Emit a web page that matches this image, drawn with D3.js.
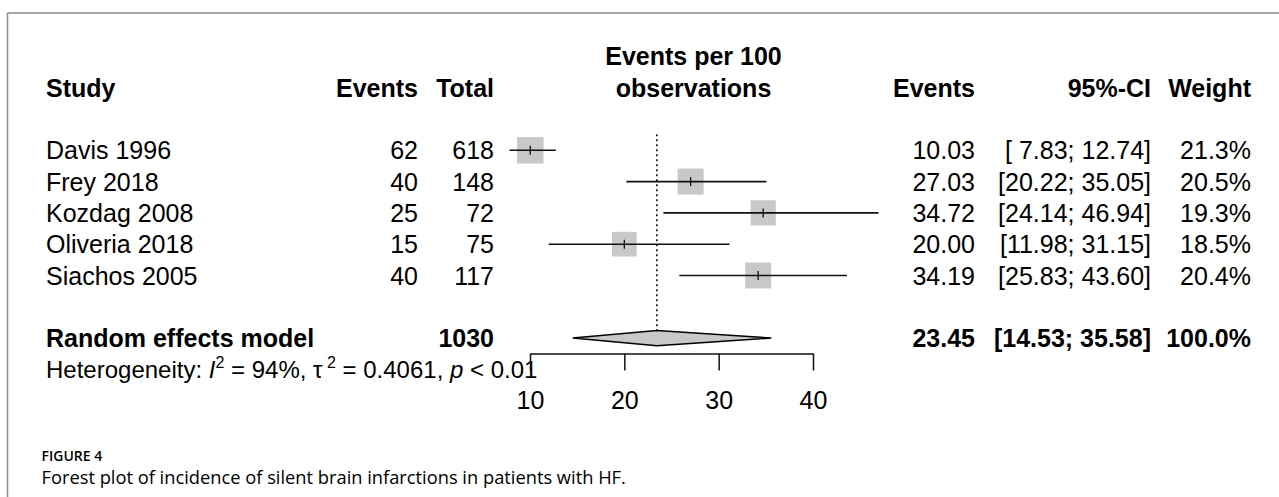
<!DOCTYPE html>
<html>
<head>
<meta charset="utf-8">
<script src="https://cdn.jsdelivr.net/npm/d3@7"></script>
<style>
  html, body { margin: 0; padding: 0; background: #fff; }
  svg { display: block; }
  text { font-family: "Liberation Sans", Arial, Helvetica, sans-serif; fill: #000; }
</style>
</head>
<body>
<svg id="chart" width="1279" height="497"></svg>
<script>
// Study-level data
const studies = ["Davis 1996", "Frey 2018", "Kozdag 2008", "Oliveria 2018", "Siachos 2005"];
const events  = [62, 40, 25, 15, 40];
const totals  = [618, 148, 72, 75, 117];
const rates   = [10.03, 27.03, 34.72, 20.00, 34.19];
const lower   = [7.83, 20.22, 24.14, 11.98, 25.83];
const upper   = [12.74, 35.05, 46.94, 31.15, 43.60];
const weights = [21.3, 20.5, 19.3, 18.5, 20.4];

// Pooled random effects estimate
const pooledLabel = "Random effects model";
const pooledTotal = 1030;
const pooledRate  = 23.45;
const pooledLower = 14.53;
const pooledUpper = 35.58;
const pooledWeight = 100.0;

// Heterogeneity statistics
const hetI2 = "94%";
const hetTau2 = "0.4061";
const hetP = "0.01";

// Axis ticks
const tickValues = [10, 20, 30, 40];

const headerCols = ["Study", "Events", "Total", "Events", "95%-CI", "Weight"];
const axisTitle = ["Events per 100", "observations"];
const figLabel = "FIGURE 4";
const figCaption = "Forest plot of incidence of silent brain infarctions in patients with HF.";

const svg = d3.select("#chart");
const FS = 25;

// Frame (top and left rules)
svg.append("line").attr("x1", 7.5).attr("x2", 1279).attr("y1", 13).attr("y2", 13)
  .attr("stroke", "#8a8a8a").attr("stroke-width", 1.5);
svg.append("line").attr("x1", 7.5).attr("x2", 7.5).attr("y1", 13).attr("y2", 497)
  .attr("stroke", "#8a8a8a").attr("stroke-width", 1.5);

// Row positions
const rowStep = 31.3;
const row0 = 150.3;
const rowY = i => row0 + i * rowStep;
const base = i => rowY(i) + 9;

const x = d3.scaleLinear().domain([10, 40]).range([530, 813]);

const colX = { study: 46, events: 418, total: 494, rate: 975, ci: 1151, weight: 1251 };

const fmt2 = d3.format(".2f");
const fmtCI = (l, u) => {
  const pad = s => (s.length < 5 ? " " : "") + s;
  return "[" + pad(fmt2(l)) + "; " + pad(fmt2(u)) + "]";
};

// Header
const hdr = svg.append("g").attr("font-weight", "bold").attr("font-size", FS);
hdr.append("text").attr("x", colX.study).attr("y", base(-2)).text(headerCols[0]);
hdr.append("text").attr("x", colX.events).attr("y", base(-2)).attr("text-anchor", "end").text(headerCols[1]);
hdr.append("text").attr("x", colX.total).attr("y", base(-2)).attr("text-anchor", "end").text(headerCols[2]);
hdr.append("text").attr("x", colX.rate).attr("y", base(-2)).attr("text-anchor", "end").text(headerCols[3]);
hdr.append("text").attr("x", colX.ci).attr("y", base(-2)).attr("text-anchor", "end").text(headerCols[4]);
hdr.append("text").attr("x", colX.weight).attr("y", base(-2)).attr("text-anchor", "end").text(headerCols[5]);
hdr.append("text").attr("x", 693.5).attr("y", base(-3)).attr("text-anchor", "middle").text(axisTitle[0]);
hdr.append("text").attr("x", 693.5).attr("y", base(-2)).attr("text-anchor", "middle").text(axisTitle[1]);

// Study rows: text columns
const rowsG = svg.append("g").attr("font-size", FS);
studies.forEach((s, i) => {
  rowsG.append("text").attr("x", colX.study).attr("y", base(i)).text(s);
  rowsG.append("text").attr("x", colX.events).attr("y", base(i)).attr("text-anchor", "end").text(events[i]);
  rowsG.append("text").attr("x", colX.total).attr("y", base(i)).attr("text-anchor", "end").text(totals[i]);
  rowsG.append("text").attr("x", colX.rate).attr("y", base(i)).attr("text-anchor", "end").text(fmt2(rates[i]));
  rowsG.append("text").attr("x", colX.ci).attr("y", base(i)).attr("text-anchor", "end")
    .style("white-space", "pre").text(fmtCI(lower[i], upper[i]));
  rowsG.append("text").attr("x", colX.weight).attr("y", base(i)).attr("text-anchor", "end")
    .text(weights[i].toFixed(1) + "%");
});

// Reference line at pooled estimate
const pr = 6;
svg.append("line")
  .attr("x1", x(pooledRate)).attr("x2", x(pooledRate))
  .attr("y1", rowY(0) - 16).attr("y2", rowY(pr) - 7.6)
  .attr("stroke", "#000").attr("stroke-width", 1.5).attr("stroke-dasharray", "2,3");

// Study markers: squares sized by weight, CI whiskers, estimate tick
const markG = svg.append("g");
studies.forEach((s, i) => {
  const y = rowY(i);
  const side = 5.74 * Math.sqrt(weights[i]);
  markG.append("rect")
    .attr("x", x(rates[i]) - side / 2).attr("y", y - side / 2)
    .attr("width", side).attr("height", side)
    .attr("fill", "#c8c8c8");
  markG.append("line")
    .attr("x1", x(lower[i])).attr("x2", x(upper[i]))
    .attr("y1", y).attr("y2", y)
    .attr("stroke", "#111").attr("stroke-width", 1.6);
  markG.append("line")
    .attr("x1", x(rates[i])).attr("x2", x(rates[i]))
    .attr("y1", y - 4.5).attr("y2", y + 4.5)
    .attr("stroke", "#111").attr("stroke-width", 1.3);
});

// Pooled row
const pg = svg.append("g").attr("font-size", FS).attr("font-weight", "bold");
pg.append("text").attr("x", colX.study).attr("y", base(pr)).text(pooledLabel);
pg.append("text").attr("x", colX.total).attr("y", base(pr)).attr("text-anchor", "end").text(pooledTotal);
pg.append("text").attr("x", colX.rate).attr("y", base(pr)).attr("text-anchor", "end").text(fmt2(pooledRate));
pg.append("text").attr("x", colX.ci).attr("y", base(pr)).attr("text-anchor", "end")
  .style("white-space", "pre").text(fmtCI(pooledLower, pooledUpper));
pg.append("text").attr("x", colX.weight).attr("y", base(pr)).attr("text-anchor", "end")
  .text(pooledWeight.toFixed(1) + "%");

const dy = rowY(pr), dh = 7.6;
svg.append("path")
  .attr("d", d3.line()([
    [x(pooledLower), dy], [x(pooledRate), dy - dh],
    [x(pooledUpper), dy], [x(pooledRate), dy + dh]
  ]) + "Z")
  .attr("fill", "#c8c8c8").attr("stroke", "#000").attr("stroke-width", 1.5);

// Heterogeneity line
const het = svg.append("text").attr("x", colX.study).attr("y", base(pr + 1)).attr("font-size", 24);
het.append("tspan").text("Heterogeneity: ");
het.append("tspan").attr("font-style", "italic").text("I");
het.append("tspan").attr("font-size", 16).attr("dy", -10).text("2");
het.append("tspan").attr("dy", 10).style("white-space", "pre").text(" = " + hetI2 + ", ");
het.append("tspan").text("\u03C4");
het.append("tspan").attr("font-size", 16).attr("dy", -10).style("white-space", "pre").text(" 2");
het.append("tspan").attr("dy", 10).style("white-space", "pre").text(" = " + hetTau2 + ", ");
het.append("tspan").attr("font-style", "italic").text("p");
het.append("tspan").style("white-space", "pre").text(" < " + hetP);

// Axis
const axisY = rowY(pr) + 15.4;
const axisG = svg.append("g")
  .attr("transform", `translate(0,${axisY})`)
  .call(d3.axisBottom(x).tickValues(tickValues).tickSize(17).tickSizeOuter(0).tickPadding(0));
axisG.select(".domain").attr("stroke", "#111").attr("stroke-width", 1.5);
axisG.selectAll(".tick line").attr("stroke", "#111").attr("stroke-width", 1.5);
axisG.selectAll(".tick text")
  .attr("font-family", "'Liberation Sans', Arial, sans-serif")
  .attr("font-size", FS).attr("fill", "#000")
  .attr("dy", null).attr("y", 55.8);

// Figure caption
svg.append("text").attr("x", 41.5).attr("y", 461)
  .style("font-family", "'Open Sans', 'Noto Sans', sans-serif")
  .attr("font-size", 14).attr("font-weight", 600).attr("fill", "#707070")
  .text(figLabel);
svg.append("text").attr("x", 41.5).attr("y", 484)
  .style("font-family", "'Open Sans', 'Noto Sans', sans-serif")
  .attr("font-size", 18.3).attr("fill", "#7a7a7a")
  .text(figCaption);
</script>
</body>
</html>
